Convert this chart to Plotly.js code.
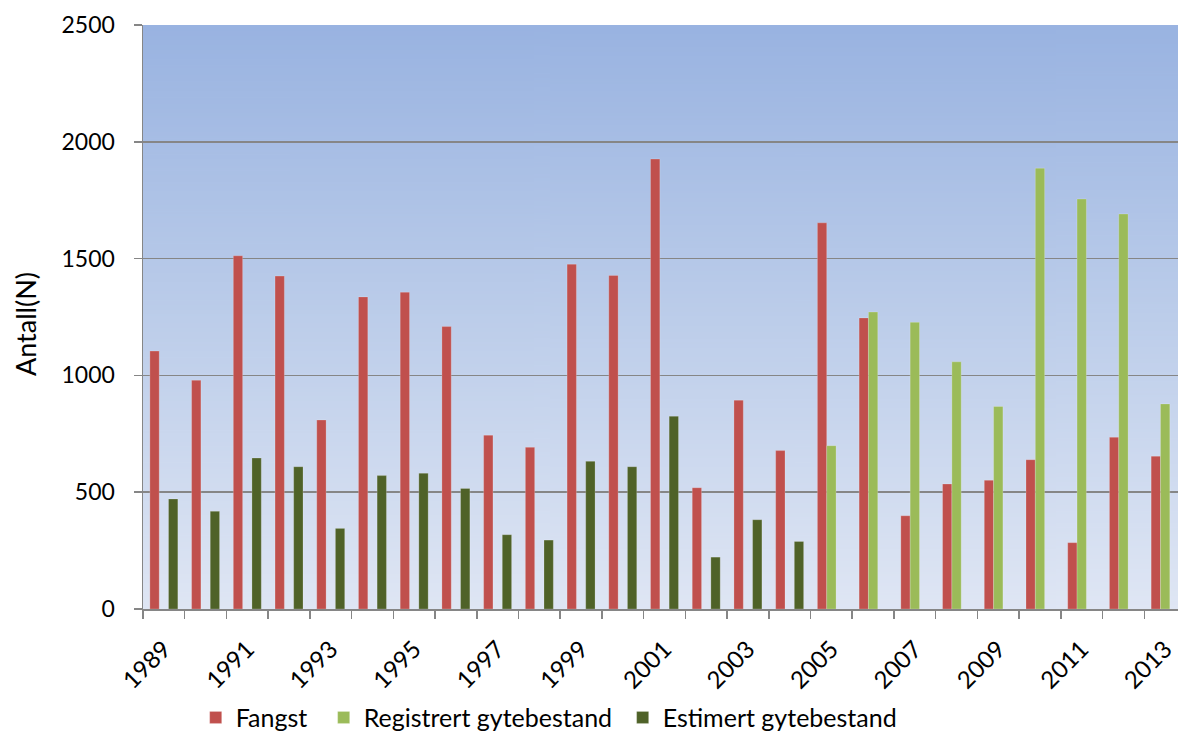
<!DOCTYPE html>
<html>
<head>
<meta charset="utf-8">
<script src="https://cdn.plot.ly/plotly-3.0.1.min.js"></script>
<style>
  html, body { margin: 0; padding: 0; background: #ffffff; overflow: hidden; }
  #chart { width: 1186px; height: 732px; }
</style>
</head>
<body>
<div id="chart"></div>
<script>
// Laksebestand per år: fangst, registrert og estimert gytebestand (antall fisk)
const years = [1989, 1990, 1991, 1992, 1993, 1994, 1995, 1996, 1997, 1998, 1999, 2000, 2001,
               2002, 2003, 2004, 2005, 2006, 2007, 2008, 2009, 2010, 2011, 2012, 2013];

const fangst = [1104, 979, 1512, 1425, 809, 1336, 1356, 1209, 744, 692, 1476, 1428, 1926,
                519, 894, 678, 1653, 1246, 399, 535, 551, 639, 284, 735, 654];

const registrertGytebestand = [null, null, null, null, null, null, null, null, null, null, null, null, null,
                               null, null, null, 699, 1271, 1227, 1058, 867, 1887, 1755, 1691, 878];

const estimertGytebestand = [471, 418, 646, 609, 345, 571, 581, 516, 318, 295, 632, 609, 825,
                             222, 382, 289, null, null, null, null, null, null, null, null, null];

const yTicks = [0, 500, 1000, 1500, 2000, 2500];
const xLabelYears = [1989, 1991, 1993, 1995, 1997, 1999, 2001, 2003, 2005, 2007, 2009, 2011, 2013];

// Vertical blue gradient used as the plot-area background
function gradientImage() {
  const c = document.createElement('canvas');
  c.width = 4; c.height = 512;
  const ctx = c.getContext('2d');
  const g = ctx.createLinearGradient(0, 0, 0, 512);
  g.addColorStop(0, '#99b3e1');
  g.addColorStop(0.5, '#bccdea');
  g.addColorStop(1, '#dfe6f4');
  ctx.fillStyle = g;
  ctx.fillRect(0, 0, 4, 512);
  return c.toDataURL('image/png');
}

const font = { family: "Lato, 'Open Sans', sans-serif", color: '#000000' };
const axisGray = '#868686';
const barEdge = { color: 'rgba(255,255,255,0.25)', width: 0.8 };

const traces = [
  { type: 'bar', name: 'Fangst', x: years, y: fangst, legend: 'legend',
    marker: { color: '#c0504d', line: barEdge } },
  { type: 'bar', name: 'Registrert gytebestand', x: years, y: registrertGytebestand, legend: 'legend2',
    marker: { color: '#9bbb59', line: barEdge } },
  { type: 'bar', name: 'Estimert gytebestand', x: years, y: estimertGytebestand, legend: 'legend3',
    marker: { color: '#4f6228', line: barEdge } }
];

// One legend box per series, laid out in a row under the axis
function legendAt(x) {
  return {
    orientation: 'h',
    xref: 'container', yref: 'container',
    x: x, xanchor: 'left',
    y: 0.051, yanchor: 'top',
    font: Object.assign({ size: 25 }, font),
    bgcolor: 'rgba(0,0,0,0)'
  };
}

const layout = {
  width: 1186,
  height: 732,
  margin: { l: 143, r: 0, t: 25, b: 123, autoexpand: false },
  paper_bgcolor: '#ffffff',
  plot_bgcolor: 'rgba(0,0,0,0)',
  font: Object.assign({ size: 23 }, font),
  barmode: 'group',
  bargap: 0.33,
  bargroupgap: 0,
  showlegend: true,
  legend: legendAt(0.165),
  legend2: legendAt(0.2729),
  legend3: legendAt(0.525),
  xaxis: {
    type: 'linear',
    automargin: false,
    range: [years[0] - 0.5, years[years.length - 1] + 0.5],
    tickmode: 'array',
    tickvals: xLabelYears,
    ticktext: xLabelYears.map(String),
    tickangle: -45,
    ticks: '',
    ticklabelstandoff: 15,
    showgrid: false,
    zeroline: false,
    showline: true,
    linecolor: axisGray,
    linewidth: 1.5,
    tickfont: Object.assign({ size: 24 }, font),
    minor: {
      tickmode: 'linear',
      tick0: years[0] - 0.5,
      dtick: 1,
      ticks: 'outside',
      ticklen: 8,
      tickwidth: 1.5,
      tickcolor: axisGray,
      showgrid: false
    },
    fixedrange: true
  },
  yaxis: {
    automargin: false,
    range: [0, 2500],
    tickmode: 'array',
    tickvals: yTicks,
    ticktext: yTicks.map(String),
    ticks: 'outside',
    ticklen: 8,
    tickwidth: 1.5,
    tickcolor: axisGray,
    ticklabelstandoff: 14,
    showgrid: true,
    gridcolor: axisGray,
    gridwidth: 1.5,
    zeroline: false,
    showline: true,
    linecolor: axisGray,
    linewidth: 1.5,
    tickfont: Object.assign({ size: 23 }, font),
    fixedrange: true
  },
  annotations: [{
    text: 'Antall(N)',
    textangle: -90,
    xref: 'paper', yref: 'paper',
    x: (25 - 143) / 1043, y: (609 - 324) / 584,
    xanchor: 'center', yanchor: 'middle',
    showarrow: false,
    font: Object.assign({ size: 27 }, font)
  }],
  images: [{
    source: gradientImage(),
    xref: 'paper', yref: 'paper',
    x: 0, y: 1, sizex: 1, sizey: 1,
    xanchor: 'left', yanchor: 'top',
    sizing: 'stretch',
    layer: 'below'
  }]
};

Plotly.newPlot('chart', traces, layout, { staticPlot: true, displayModeBar: false });
</script>
</body>
</html>
